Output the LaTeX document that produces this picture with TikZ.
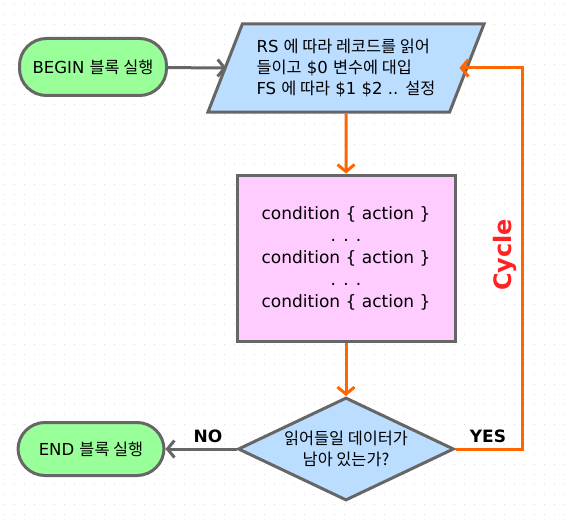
\documentclass[tikz,border=0pt]{standalone}
\usepackage{fontspec}
\setmainfont{DejaVu Sans}
\newfontfamily\krfont[Scale=0.99]{Noto Sans CJK KR}
\newcommand{\kr}[1]{{\krfont #1}}
\usetikzlibrary{shapes.geometric,arrows.meta,scopes}
\definecolor{linegray}{HTML}{666666}
\definecolor{dotgray}{HTML}{DDDDDD}
\definecolor{termgreen}{HTML}{99FF99}
\definecolor{ioblue}{HTML}{BBDDFF}
\definecolor{bodypink}{HTML}{FFCCFF}
\definecolor{flow}{HTML}{FF6600}
\definecolor{cyclered}{HTML}{FF2222}
\tikzset{
  shape box/.style={draw=linegray,line width=3pt},
  startstop/.style={shape box,fill=termgreen,rounded corners=27pt,
                    minimum width=147pt,minimum height=57pt},
  io/.style={shape box,fill=ioblue,trapezium,trapezium left angle=62,
             trapezium right angle=118,trapezium stretches body,
             minimum width=276pt,minimum height=88pt,align=left,
             font=\fontsize{16.5}{21}\selectfont},
  body/.style={shape box,fill=bodypink,minimum width=218pt,minimum height=166pt,
               align=center,font=\fontsize{17}{22}\selectfont},
  test/.style={shape box,fill=ioblue,diamond,aspect=2.1,inner sep=0pt,
               minimum width=216pt,minimum height=103pt,align=center,
               font=\fontsize{16.5}{20.5}\selectfont},
  answer/.style={font=\bfseries\fontsize{17}{20}\selectfont},
}
\begin{document}
\begin{tikzpicture}[x=1pt,y=-1pt,every node/.style={font=\fontsize{16.5}{21}\selectfont}]

\useasboundingbox (0,0) rectangle (568,519);
\fill[white] (0,0) rectangle (568,519);
% dotted paper
\foreach \i in {0,...,56}
  \foreach \j in {0,...,51}
    \fill[dotgray] (\i*10+4,\j*10+4) rectangle +(1.2,1.2);

\path node[startstop] (begin) at (93,67)  {BEGIN \kr{블록 실행}}
      node[io]        (read)  at (346,68) {RS \kr{에 따라 레코드를 읽어}\\
                                           \kr{들이고} \$0 \kr{변수에 대입}\\
                                           FS \kr{에 따라} \$1 \$2 .. \kr{설정}}
      node[body]      (rules) at (346,258) {condition \{ action \}\\ . . .\\
                                            condition \{ action \}\\ . . .\\
                                            condition \{ action \}}
      node[test]      (more)  at (346,449) {\kr{읽어들일 데이터가}\\ \kr{남아 있는가?}}
      node[startstop,minimum width=146pt,minimum height=53pt]
                      (end)   at (91,449)  {END \kr{블록 실행}};
\coordinate (loop) at (522,68);

\node[answer] (no)  at (208,436) {NO};
\node[answer] (yes) at (488,436) {YES};
\node[font=\bfseries\fontsize{24}{26}\selectfont,text=cyclered,rotate=90]
      (cycle) at (505,255) {Cycle};

{ [line width=3pt,-{Straight Barb[length=7pt,width=17pt]}]
  {[draw=linegray]
  \draw[shorten >=-3pt] (begin) -- (read.left side);
  \draw (more.west) -- (end);
  }
  {[draw=flow]
  \draw (read) -- (rules);
  \draw (rules) -- (more);
  \draw[shorten >=-9pt] (more.east) -| (loop) -- (read.right side);
  }
}
\end{tikzpicture}
\end{document}
